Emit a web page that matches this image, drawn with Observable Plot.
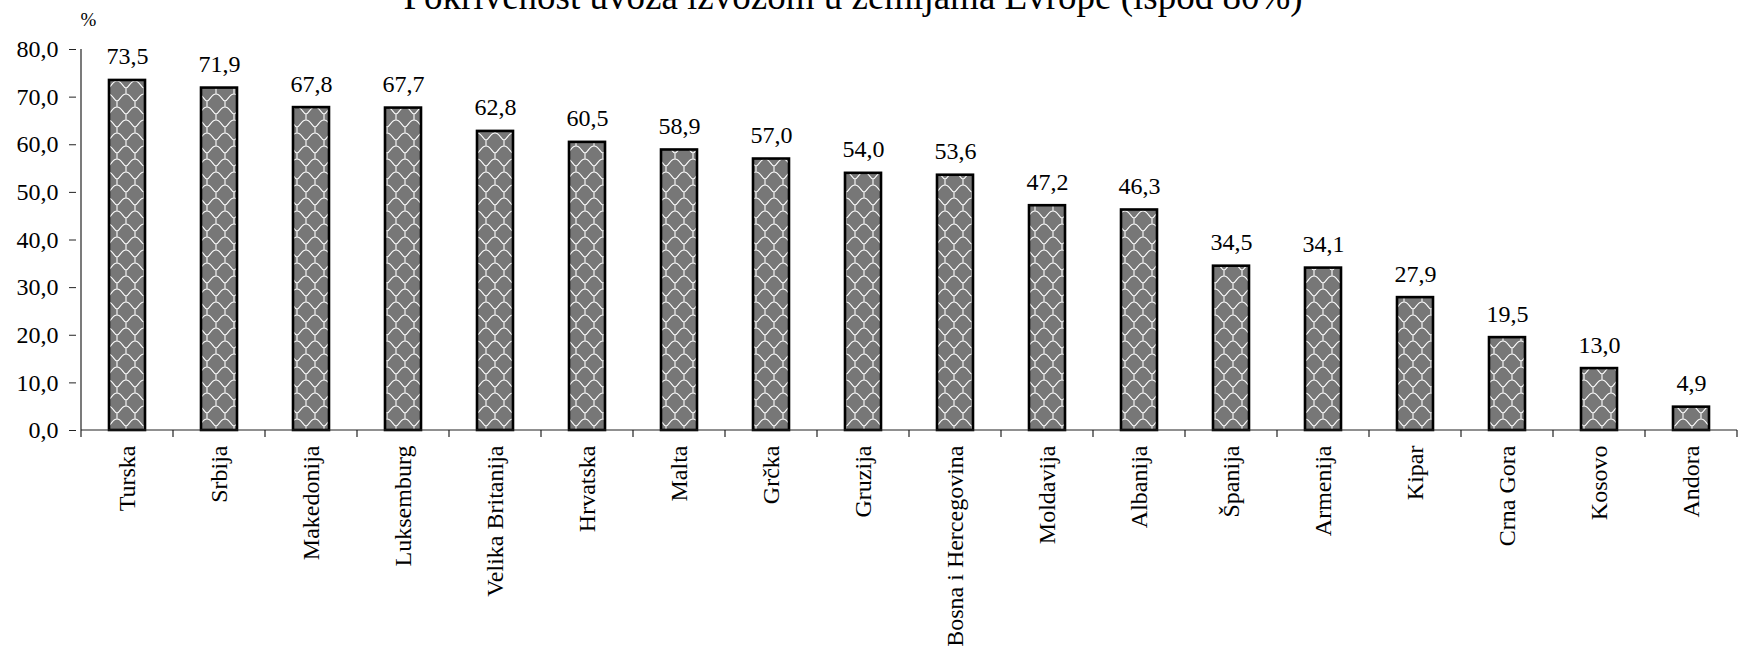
<!DOCTYPE html>
<html>
<head>
<meta charset="utf-8">
<script src="https://cdn.jsdelivr.net/npm/d3@7"></script>
<script src="https://cdn.jsdelivr.net/npm/@observablehq/plot@0.6"></script>
<style>
  html, body { margin: 0; padding: 0; background: #fff; overflow: hidden; }
  #wrap { position: relative; width: 1754px; height: 652px; font-family: "Liberation Serif", "Times New Roman", serif; }
  #title { position: absolute; top: -22px; left: 853px; transform: translateX(-50%); white-space: nowrap;
           font-size: 37px; line-height: 37px; color: #000; font-family: "Liberation Serif", "Times New Roman", serif; }
  #chart { position: absolute; top: 0; left: 0; }
</style>
</head>
<body>
<svg width="0" height="0" style="position:absolute">
  <defs>
    <pattern id="wave" patternUnits="userSpaceOnUse" width="18" height="26">
      <rect width="18" height="26" fill="#777777"></rect>
      <path d="M0,10 C3,10 4,3 9,3 C14,3 15,10 18,10 M9,3 L9,0 M-9,23 C-6,23 -5,16 0,16 C5,16 6,23 9,23 C12,23 13,16 18,16 C23,16 24,23 27,23 M0,16 L0,10 M18,16 L18,10 M9,23 L9,26"
            stroke="#ffffff" stroke-width="1.1" fill="none"></path>
    </pattern>
  </defs>
</svg>
<div id="wrap">
  <div id="title">Pokrivenost uvoza izvozom u zemljama Evrope (ispod 80%)</div>
  <div id="chart"></div>
</div>
<script>
const countries = ["Turska","Srbija","Makedonija","Luksemburg","Velika Britanija","Hrvatska","Malta","Grčka","Gruzija","Bosna i Hercegovina","Moldavija","Albanija","Španija","Armenija","Kipar","Crna Gora","Kosovo","Andora"];
const values = [73.5,71.9,67.8,67.7,62.8,60.5,58.9,57.0,54.0,53.6,47.2,46.3,34.5,34.1,27.9,19.5,13.0,4.9];
const yTicks = [0,10,20,30,40,50,60,70,80];
const unitLabel = ["%"];

const SERIF = "Liberation Serif";
const data = countries.map((c, i) => ({country: c, value: values[i]}));
const fmt = d => d3.format(".1f")(d).replace(".", ",");

function axesLines(index, scales, vals, dims) {
  const x = scales.x, y = scales.y;
  const step = x(countries[1]) - x(countries[0]);
  const g = d3.create("svg:g").attr("stroke", "#222").attr("stroke-width", 1.2).attr("fill", "none");
  const y0 = y(0), yTop = y(80);
  const left = x(countries[0]);
  const right = x(countries[countries.length - 1]) + step;
  g.append("line").attr("x1", left).attr("x2", left).attr("y1", yTop).attr("y2", y0);
  g.append("line").attr("x1", left).attr("x2", right).attr("y1", y0).attr("y2", y0);
  for (let i = 0; i <= countries.length; i++) {
    const px = i < countries.length ? x(countries[i]) : right;
    g.append("line").attr("x1", px).attr("x2", px).attr("y1", y0).attr("y2", y0 + 7);
  }
  return g.node();
}

const plot = Plot.plot({
  width: 1754,
  height: 652,
  marginLeft: 76,
  marginRight: 12,
  marginTop: 49,
  marginBottom: 222,
  style: "font-family: 'Liberation Serif', serif; color: #000; background: transparent;",
  x: {domain: countries, padding: 0, label: null},
  y: {domain: [0, 80], label: null},
  marks: [
    Plot.barY(data, {x: "country", y: "value", fill: "url(#wave)", stroke: "#000", strokeWidth: 2.6, insetLeft: 28, insetRight: 28}),
    Plot.text(data, {x: "country", y: "value", text: d => fmt(d.value), lineAnchor: "bottom", dy: -16, fontSize: 24, fontFamily: SERIF, fill: "#000"}),
    Plot.axisY({ticks: yTicks, tickFormat: fmt, tickSize: 7, tickPadding: 11, fontSize: 24, fontFamily: SERIF, label: null, stroke: "#222"}),
    Plot.axisX({tickRotate: -90, tickSize: 0, tickPadding: 15, fontSize: 24, fontFamily: SERIF, label: null}),
    axesLines,
    Plot.text(unitLabel, {frameAnchor: "top-left", text: d => d, textAnchor: "middle", lineAnchor: "bottom", dx: 12, dy: -24, fontSize: 19, fontFamily: SERIF, fill: "#000"})
  ]
});
document.getElementById("chart").appendChild(plot);
</script>
</body>
</html>
